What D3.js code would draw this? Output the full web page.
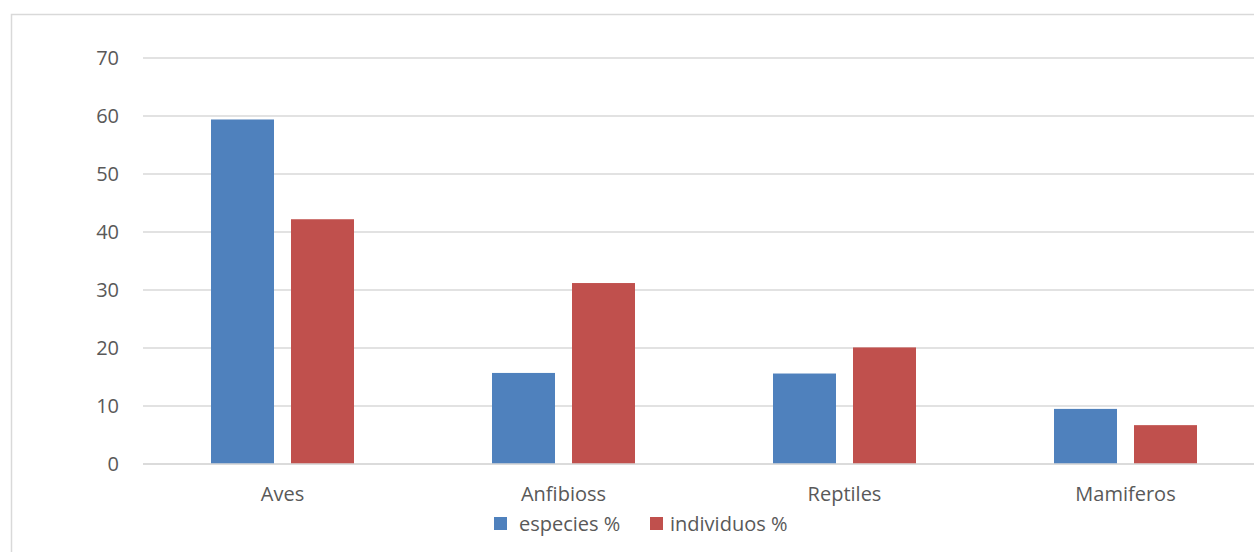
<!DOCTYPE html>
<html>
<head>
<meta charset="utf-8">
<script src="https://cdn.jsdelivr.net/npm/d3@7"></script>
<style>
  body { margin: 0; background: #fff; }
  text { font-family: "Open Sans", "Noto Sans", sans-serif; fill: #595959; }
</style>
</head>
<body>
<script>
// data
var categories = ["Aves", "Anfibioss", "Reptiles", "Mamiferos"];
var seriesNames = ["especies %", "individuos %"];
var especies = [59.4, 15.7, 15.6, 9.5];
var individuos = [42.2, 31.2, 20.1, 6.7];
var yTicks = [0, 10, 20, 30, 40, 50, 60, 70];
var colors = ["#4F81BD", "#C0504D"];

var width = 1254, height = 552;
var margin = {top: 58, left: 142, bottom: 88};
var plotRight = 1266; // plot area runs past the window edge

var svg = d3.select("body").append("svg")
    .attr("width", width)
    .attr("height", height);

// chart frame (right and bottom edges are cut off)
svg.append("rect")
    .attr("x", 11.5).attr("y", 14.5)
    .attr("width", 1300).attr("height", 600)
    .attr("fill", "none")
    .attr("stroke", "#d9d9d9")
    .attr("stroke-width", 1.5);

var y = d3.scaleLinear()
    .domain([0, 70])
    .range([height - margin.bottom, margin.top]);

var x0 = d3.scaleBand()
    .domain(categories)
    .range([margin.left, plotRight])
    .paddingInner(0)
    .paddingOuter(0);

var x1 = d3.scaleBand()
    .domain(seriesNames)
    .range([0, x0.bandwidth()])
    .paddingInner(0.2125)
    .paddingOuter(0.8625);

// gridlines
svg.append("g")
  .selectAll("line")
  .data(yTicks)
  .enter()
  .append("line")
  .attr("x1", margin.left + 1)
  .attr("x2", width)
  .attr("y1", function(d) { return y(d); })
  .attr("y2", function(d) { return y(d); })
  .attr("stroke", "#d9d9d9")
  .attr("stroke-width", 1.5);

// y tick labels
svg.append("g")
  .selectAll("text")
  .data(yTicks)
  .enter()
  .append("text")
  .attr("x", 119)
  .attr("y", function(d) { return y(d); })
  .attr("dy", "0.35em")
  .attr("text-anchor", "end")
  .style("font-size", "20px")
  .text(function(d) { return d; });

// bars
var rows = categories.map(function(c, i) {
  return {cat: c, values: [especies[i], individuos[i]]};
});

var groups = svg.append("g")
  .selectAll("g")
  .data(rows)
  .enter()
  .append("g")
  .attr("transform", function(d) { return "translate(" + x0(d.cat) + ",0)"; });

groups.selectAll("rect")
  .data(function(d) { return d.values.map(function(v, j) { return {name: seriesNames[j], value: v, j: j}; }); })
  .enter()
  .append("rect")
  .attr("x", function(d) { return x1(d.name); })
  .attr("width", x1.bandwidth())
  .attr("y", function(d) { return y(d.value); })
  .attr("height", function(d) { return y(0) - y(d.value); })
  .attr("fill", function(d) { return colors[d.j]; });

// redraw the zero line on top of the bars
svg.append("line")
  .attr("x1", margin.left + 1)
  .attr("x2", width)
  .attr("y1", y(0))
  .attr("y2", y(0))
  .attr("stroke", "#d9d9d9")
  .attr("stroke-width", 1.5);

// category labels
svg.append("g")
  .selectAll("text")
  .data(categories)
  .enter()
  .append("text")
  .attr("x", function(d) { return x0(d) + x0.bandwidth() / 2; })
  .attr("y", 494)
  .attr("dy", "0.35em")
  .attr("text-anchor", "middle")
  .style("font-size", "20px")
  .text(function(d) { return d; });

// legend
var legendX = [494, 650];
var legendTextX = [25, 20];
var legend = svg.selectAll(".legend")
  .data(seriesNames)
  .enter()
  .append("g")
  .attr("class", "legend")
  .attr("transform", function(d, i) { return "translate(" + legendX[i] + ",517)"; });

legend.append("rect")
  .attr("width", 13)
  .attr("height", 13)
  .attr("fill", function(d, i) { return colors[i]; });

legend.append("text")
  .attr("x", function(d, i) { return legendTextX[i]; })
  .attr("y", 7)
  .attr("dy", "0.35em")
  .style("font-size", "20px")
  .text(function(d) { return d; });
</script>
</body>
</html>
